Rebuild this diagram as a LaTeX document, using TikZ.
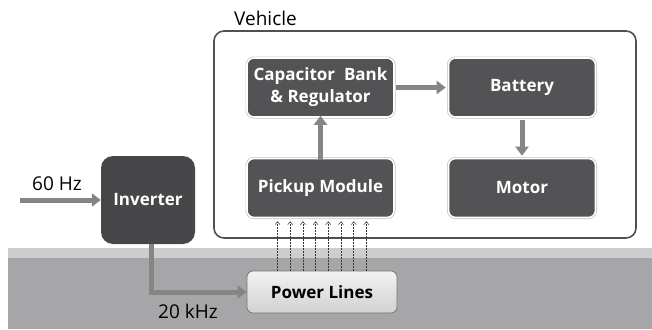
\documentclass[tikz,border=0pt]{standalone}
\usepackage{fontspec}
\setmainfont{Open Sans}
\usetikzlibrary{arrows.meta,calc}
\definecolor{boxfill}{HTML}{535355}
\definecolor{invfill}{HTML}{474749}
\definecolor{flow}{HTML}{858585}
\definecolor{groundtop}{HTML}{CDCDCF}
\definecolor{ground}{HTML}{A6A6A9}
\definecolor{frame}{HTML}{505050}

\begin{document}
\begin{tikzpicture}[x=1pt,y=-1pt,
		%Option for nice arrows%
		>=latex,%
		inner sep=0pt,%
		unit/.style={draw=white,line width=1.6pt,fill=boxfill,rounded corners=7pt,
			minimum width=147pt,minimum height=59pt,text=white,align=center,
			font=\fontsize{17}{22}\selectfont\bfseries,
			preaction={draw=black!25,line width=3pt}},%
		label text/.style={font=\fontsize{19}{22}\selectfont},%
		flowarrow/.style={draw=flow,line width=5pt,-{Triangle[length=9pt,width=13pt]}},%
		fieldline/.style={draw=black!80,line width=0.5pt,densely dotted,
			-{Straight Barb[length=3pt,width=5pt]}}%
		]
		%% some definitions
		\def\sep{12.7}    % spacing of field lines
		\useasboundingbox (0,0) rectangle (652,329);
		%
		%% ground
		\fill[groundtop] (8,248) rectangle (652,258);
		\fill[ground] (8,258) rectangle (652,329);
		%
		%% vehicle frame
		\draw[frame,line width=1.6pt,rounded corners=10pt] (214,31) rectangle (636,238);
		\node[anchor=west,label text] (vehicle) at (234,18) {Vehicle};
		%
		\node[unit] (cap) at (320.5,87.5) {Capacitor~ Bank\\\& Regulator};
		\node[unit] (bat) at (522,87.5) {Battery};
		\node[unit] (pick) at (320.5,188) {Pickup Module};
		\node[unit] (mot) at (522,188) {Motor};
		%
		\node[fill=invfill,rounded corners=12pt,minimum width=94pt,minimum height=88pt,
			text=white,font=\fontsize{17}{22}\selectfont\bfseries] (inv) at (148,200) {Inverter};
		\node[draw=black!55,line width=0.7pt,rounded corners=6pt,top color=white!95!black,
			bottom color=black!18,minimum width=150pt,minimum height=42pt,
			font=\fontsize{17}{22}\selectfont\bfseries] (pl) at (322,292) {Power Lines};
		%
		%% flows
		\coordinate (src) at (20,200);
		\draw[flowarrow] (src) -- (inv.west);
		\node[label text] (lf) at (57,184) {60 Hz};
		\draw[flowarrow] ([xshift=3pt]inv.south) |- (pl.west);
		\node[label text] (hf) at (188,311) {20 kHz};
		\draw[flowarrow] ([yshift=-2pt]pick.north) -- ([yshift=2pt]cap.south);
		\draw[flowarrow] ([xshift=1pt]cap.east) -- ([xshift=-2pt]bat.west);
		\draw[flowarrow] ([yshift=-2pt]bat.south) -- ([yshift=2pt]mot.south |- mot.north);
		%
		%% field lines
		\foreach \i in {0,...,7}
		\draw[fieldline] ([xshift=-44.5+\i*\sep]pl.north) -- ([xshift=-44.5+\i*\sep,yshift=-3pt]pl.north |- pick.south);
	\end{tikzpicture}
\end{document}
